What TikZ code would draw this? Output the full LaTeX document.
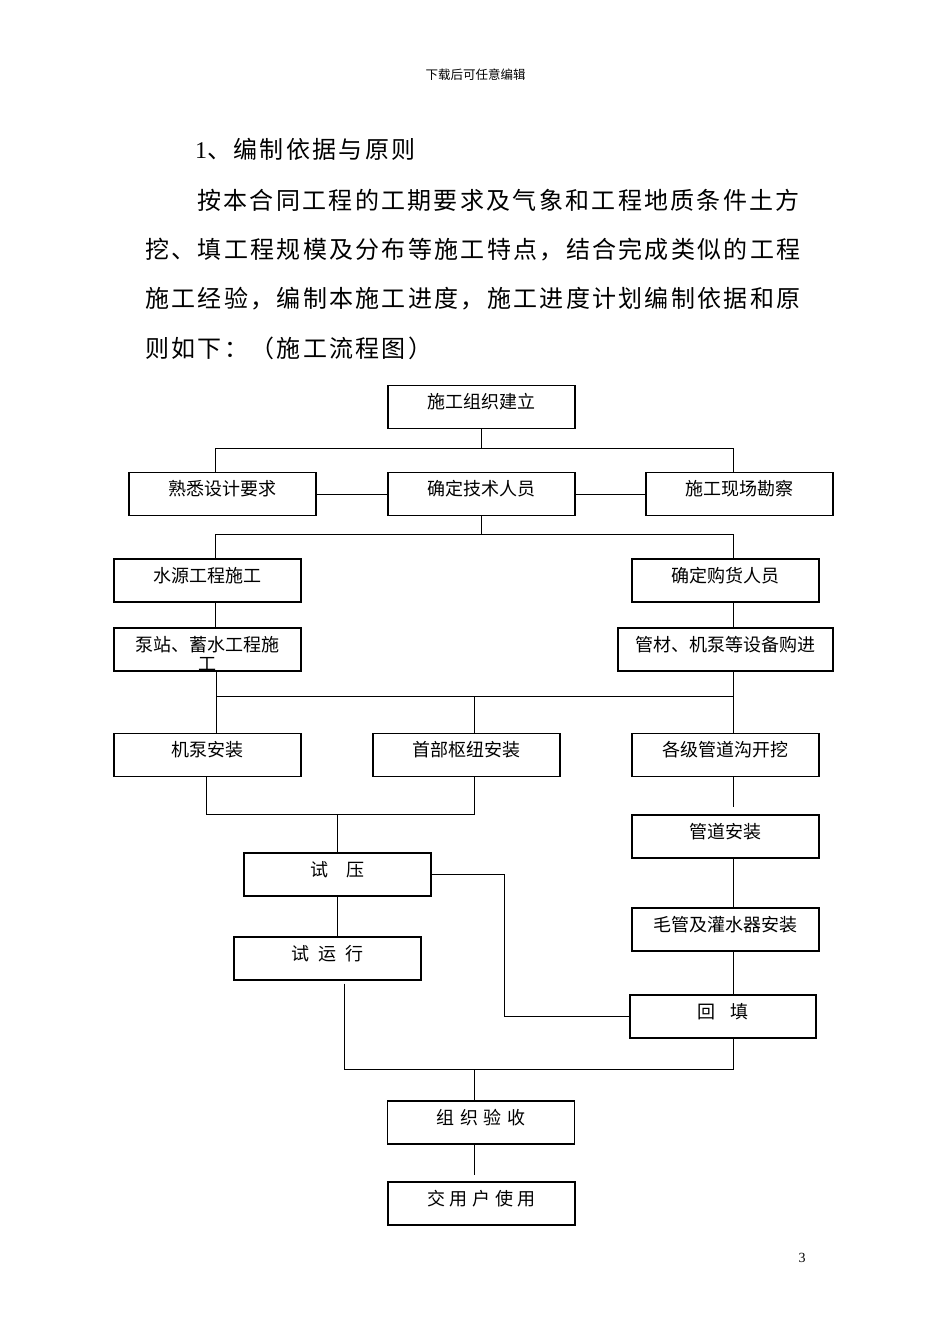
\documentclass[tikz,border=0pt]{standalone}
\usepackage{fontspec}
\setmainfont{Liberation Serif}
\newfontfamily\cjk{Noto Sans CJK SC}
\newfontfamily\cjkwide[LetterSpace=9.6]{Noto Sans CJK SC}

\begin{document}
\begin{tikzpicture}[x=1pt,y=-1pt,
  box/.style={draw,line width=1.2pt,minimum width=187pt,minimum height=43pt,inner sep=0pt,
    font=\cjk\fontsize{18}{21.6}\selectfont,text height=14pt,text depth=11pt},
  body/.style={anchor=base west,inner sep=0pt,font=\cjkwide\fontsize{24}{28}\selectfont},
  link/.style={line width=1pt}]
\useasboundingbox (0,0) rectangle (950,1344);
\fill[white] (0,0) rectangle (950,1344);

% page text
\node[anchor=base,inner sep=0pt,font=\cjk\fontsize{12.5}{15}\selectfont] (header) at (475.5,79) {下载后可任意编辑};
\node[body] (title) at (195,158) {{\rmfamily 1}、编制依据与原则};
\node[body] (line1) at (197,209) {按本合同工程的工期要求及气象和工程地质条件土方};
\node[body] (line2) at (145,258) {挖、填工程规模及分布等施工特点，结合完成类似的工程};
\node[body] (line3) at (145,307) {施工经验，编制本施工进度，施工进度计划编制依据和原};
\node[body] (line4) at (145,357) {则如下：（施工流程图）};
\node[anchor=base,inner sep=0pt,font=\fontsize{14}{16}\selectfont] (pageno) at (802,1262) {3};

% boxes
\node[box] (org) at (481.5,407) {施工组织建立};
\node[box] (fam) at (222.5,494) {熟悉设计要求};
\node[box] (tech) at (481.5,494) {确定技术人员};
\node[box] (site) at (739.5,494) {施工现场勘察};
\node[box] (water) at (207.5,580.5) {水源工程施工};
\node[box] (buyer) at (725.5,580.5) {确定购货人员};
\node[box] (pump) at (207.5,649.5) {};
\node[anchor=north,inner sep=0pt,align=center,font=\cjk\fontsize{18}{21.6}\selectfont] (pumptext) at (207.5,636) {泵站、蓄水工程施\\[-2pt]工};
\node[box,minimum width=215pt] (pipe) at (725.5,649.5) {管材、机泵等设备购进};
\node[box] (unit) at (207.5,755) {机泵安装};
\node[box] (hub) at (466.5,755) {首部枢纽安装};
\node[box] (ditch) at (725.5,755) {各级管道沟开挖};
\node[box] (lay) at (725.5,836.5) {管道安装};
\node[box] (drip) at (725.5,929.5) {毛管及灌水器安装};
\node[box,minimum width=186pt] (backfill) at (723,1016.5) {回\hspace{0.8em}填};
\node[box] (press) at (337.5,874.5) {试\hspace{1em}压};
\node[box] (trial) at (327.5,958.5) {试\hspace{0.5em}运\hspace{0.5em}行};
\node[box] (check) at (481,1122.5) {组\hspace{0.3em}织\hspace{0.3em}验\hspace{0.3em}收};
\node[box] (user) at (481.5,1203.5) {交\hspace{0.26em}用\hspace{0.26em}户\hspace{0.26em}使\hspace{0.26em}用};

% junctions
\coordinate (b1l) at (215,448); \coordinate (b1r) at (733,448);
\coordinate (b2l) at (215,534); \coordinate (b2r) at (733,534);
\coordinate (b3l) at (216,696); \coordinate (b3m) at (474,696); \coordinate (b3r) at (733,696);
\coordinate (b4l) at (206,814); \coordinate (b4m) at (337,814); \coordinate (b4r) at (474,814);
\coordinate (b5l) at (344.5,1069); \coordinate (b5m) at (474,1069); \coordinate (b5r) at (733,1069);

\draw[link] (org.south) -- (org.south |- b1l);
\draw[link] (fam.north -| b1l) |- (b1r) -- (site.north -| b1r);
\draw[link] (fam) -- (tech);
\draw[link] (tech) -- (site);

\draw[link] (tech.south) -- (tech.south |- b2l);
\draw[link] (water.north -| b2l) |- (b2r) -- (buyer.north -| b2r);
\draw[link] (water.south -| b2l) -- (pump.north -| b2l);
\draw[link] (buyer.south -| b2r) -- (pipe.north -| b2r);

\draw[link] (pump.south -| b3l) -- (unit.north -| b3l);
\draw[link] (pipe.south -| b3r) -- (ditch.north -| b3r);
\draw[link] (b3l) -- (b3r);
\draw[link] (b3m) -- (hub.north -| b3m);

\draw[link] (unit.south -| b4l) |- (b4r) -- (hub.south -| b4r);
\draw[link] (b4m) -- (press.north -| b4m);

\draw[link,shorten >=7pt] (ditch.south -| b3r) -- (lay.north -| b3r);
\draw[link] (lay.south -| b3r) -- (drip.north -| b3r);
\draw[link] (drip.south -| b5r) -- (backfill.north -| b5r);
\draw[link] (press.east) -- ++(73,0) |- (backfill.west);

\draw[link] (press.south -| b4m) -- (trial.north -| b4m);
\draw[link,shorten <=3pt] (trial.south -| b5l) |- (b5r) -- (backfill.south -| b5r);
\draw[link] (b5m) -- (check.north -| b5m);
\draw[link,shorten >=6pt] (check.south -| b5m) -- (user.north -| b5m);
\end{tikzpicture}
\end{document}
